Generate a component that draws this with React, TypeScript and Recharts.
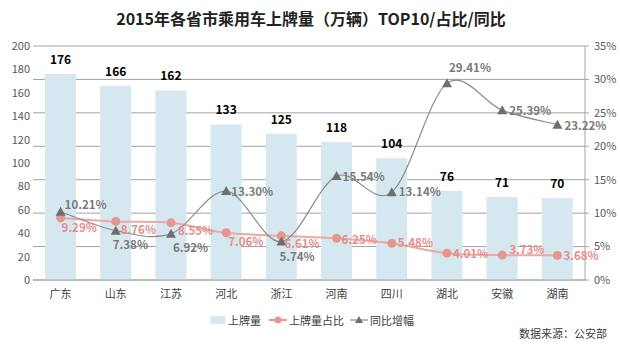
import { ComposedChart, Bar, Line, XAxis, YAxis, CartesianGrid, LabelList } from 'recharts'

const provinces = ['广东', '山东', '江苏', '河北', '浙江', '河南', '四川', '湖北', '安徽', '湖南']
const plates = [176, 166, 162, 133, 125, 118, 104, 76, 71, 70]
const share = [9.29, 8.76, 8.55, 7.06, 6.61, 6.25, 5.48, 4.01, 3.73, 3.68]
const yoy = [10.21, 7.38, 6.92, 13.3, 5.74, 15.54, 13.14, 29.41, 25.39, 23.22]
const leftTicks = [0, 20, 40, 60, 80, 100, 120, 140, 160, 180, 200]
const rightTicks = [0, 5, 10, 15, 20, 25, 30, 35]

// label nudges (dx, dy) per point, like the hand-placed Excel labels
const shareLabelPos = [[1, 9], [5, 8], [7, 7], [2, 8], [3, 7], [5, 1], [6, -1], [6, 0], [7, -6], [6, 0]]
const yoyLabelPos = [[4, -8], [-3, 13], [2, 13], [5, 0], [-2, 14], [6, 0], [7, -1], [2, -16], [7, 0], [7, 0]]

const data = provinces.map((name, i) => ({ name, plates: plates[i], share: share[i], yoy: yoy[i] }))

const FONT = '"Noto Sans CJK SC", "Noto Sans", sans-serif'
const BAR = '#D5E8F0'
const PINK = '#E6958F'
const GRAY = '#7A7A7A'

// Excel-style smoothed line (catmull-rom as bezier)
function excelSmooth(context: any) {
  let pts: number[][] = []
  return {
    areaStart() {},
    areaEnd() {},
    lineStart() { pts = [] },
    point(x: number, y: number) { pts.push([+x, +y]) },
    lineEnd() {
      const n = pts.length
      if (!n) return
      context.moveTo(pts[0][0], pts[0][1])
      for (let i = 0; i < n - 1; i++) {
        const p0 = pts[i - 1] || pts[i]
        const p1 = pts[i]
        const p2 = pts[i + 1]
        const p3 = pts[i + 2] || p2
        context.bezierCurveTo(
          p1[0] + (p2[0] - p0[0]) / 6, p1[1] + (p2[1] - p0[1]) / 6,
          p2[0] - (p3[0] - p1[0]) / 6, p2[1] - (p3[1] - p1[1]) / 6,
          p2[0], p2[1],
        )
      }
    },
  }
}

function Circle(props: any) {
  const { cx, cy, index } = props
  return <circle key={index} cx={cx} cy={cy} r={4.5} fill={PINK} />
}

function Triangle(props: any) {
  const { cx, cy, index } = props
  return <polygon key={index} points={`${cx},${cy - 5} ${cx + 5},${cy + 4} ${cx - 5},${cy + 4}`} fill="#6E6E6E" />
}

const pctLabel = (pos: number[][], color: string) => (props: any) => {
  const { x, y, index, value } = props
  const [dx, dy] = pos[index] || [6, 0]
  return (
    <text x={x + dx} y={y + dy} dominantBaseline="central" fill={color}
      fontSize={11.5} fontWeight="bold" fontFamily={FONT}>
      {Number(value).toFixed(2)}%
    </text>
  )
}

export default function App() {
  const tick = { fontSize: 11, fill: '#595959', fontFamily: FONT }
  return (
    <div style={{ position: 'absolute', left: 0, top: 0, width: 620, height: 351, background: '#fff', fontFamily: FONT }}>
      <div style={{ position: 'absolute', top: 7, left: 0, width: 622, textAlign: 'center', fontSize: 16, fontWeight: 'bold', color: '#222', lineHeight: '22px' }}>
        2015年各省市乘用车上牌量（万辆）TOP10/占比/同比
      </div>
      <ComposedChart width={620} height={351} data={data} margin={{ top: 46, right: 0, bottom: 0, left: 0 }} barSize={31}>
        <CartesianGrid yAxisId="right" vertical={false} stroke="#A3A3A3" />
        <XAxis dataKey="name" height={71} tick={{ ...tick, fill: '#404040' }} tickLine={false}
          axisLine={{ stroke: '#A6A6A6' }} tickMargin={4} interval={0} />
        <YAxis yAxisId="left" domain={[0, 200]} ticks={leftTicks} width={33} tick={tick}
          axisLine={false} tickLine={false} tickSize={3} tickMargin={0} />
        <YAxis yAxisId="right" orientation="right" domain={[0, 35]} ticks={rightTicks} width={35}
          tick={tick} tickFormatter={(v: number) => `${v}%`} axisLine={{ stroke: '#A6A6A6' }}
          tickLine={{ stroke: '#A6A6A6' }} tickSize={4} tickMargin={5} />
        <Bar yAxisId="left" dataKey="plates" fill={BAR} isAnimationActive={false}>
          <LabelList dataKey="plates" position="top" offset={10} fill="#000" fontSize={12} fontWeight="bold" fontFamily={FONT} />
        </Bar>
        <Line yAxisId="right" dataKey="share" type={excelSmooth as any} stroke="#EBA9A4" strokeWidth={2}
          dot={<Circle />} activeDot={false} isAnimationActive={false}>
          <LabelList dataKey="share" content={pctLabel(shareLabelPos, '#E58E88')} />
        </Line>
        <Line yAxisId="right" dataKey="yoy" type={excelSmooth as any} stroke="#8C8C8C" strokeWidth={1.2}
          dot={<Triangle />} activeDot={false} isAnimationActive={false}>
          <LabelList dataKey="yoy" content={pctLabel(yoyLabelPos, GRAY)} />
        </Line>
      </ComposedChart>
      <div style={{ position: 'absolute', top: 312, left: 210, display: 'flex', alignItems: 'center', fontSize: 11, color: '#404040', lineHeight: '16px' }}>
        <span style={{ width: 15, height: 8, background: BAR, marginRight: 3 }} />
        <span style={{ marginRight: 8 }}>上牌量</span>
        <svg width={18} height={10} style={{ marginRight: 2 }}>
          <line x1={0} y1={5} x2={18} y2={5} stroke={PINK} strokeWidth={2} />
          <circle cx={9} cy={5} r={3.5} fill={PINK} />
        </svg>
        <span style={{ marginRight: 6 }}>上牌量占比</span>
        <svg width={18} height={10} style={{ marginRight: 2 }}>
          <line x1={0} y1={5} x2={18} y2={5} stroke="#8C8C8C" strokeWidth={1.2} />
          <polygon points="9,1 13,8 5,8" fill="#6E6E6E" />
        </svg>
        <span>同比增幅</span>
      </div>
      <div style={{ position: 'absolute', top: 325, left: 519, fontSize: 11, color: '#404040', lineHeight: '16px' }}>
        数据来源：公安部
      </div>
    </div>
  )
}
